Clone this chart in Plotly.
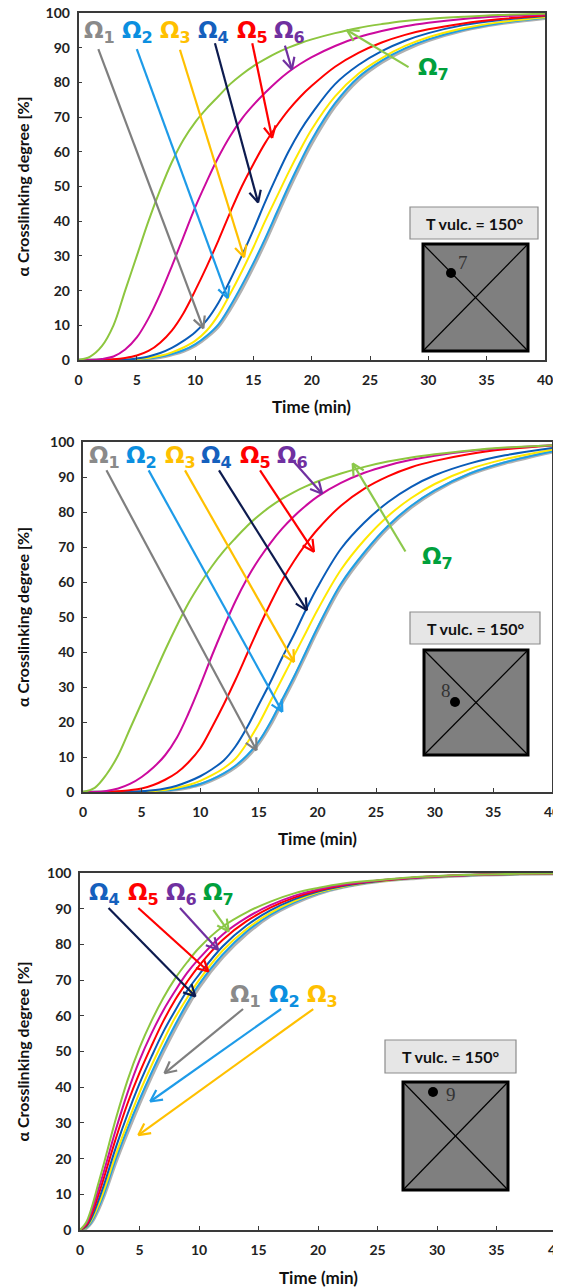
import math
import plotly.graph_objects as go

# the page body adds an 8px margin; the figure is sized so it exactly fills the 561x1288 window
OFF = 8
W, H = 561 - OFF, 1288 - OFF

# ---------------- data ----------------
T12 = [0, 1, 2, 3, 4, 5, 6, 7, 8, 9, 10, 11, 12, 13, 14, 15, 16, 17, 18, 19, 20, 22, 24, 26, 28, 30, 33, 36, 40]

p1_om7 = [0, 1, 4, 10, 20, 30, 40, 49, 57, 63.5, 68.5, 72.5, 76, 79.5, 82.3, 84.7, 86.7, 88.5, 90, 91.3, 92.4, 94.2, 95.7, 96.8, 97.7, 98.3, 98.9, 99.4, 99.8]
p1_om6 = [0, 0, 0.3, 1, 3, 6.5, 12, 19, 27, 35.5, 44, 51.5, 58.5, 64.5, 69.5, 73.5, 77, 80.2, 83, 85.3, 87.3, 90.5, 93, 94.8, 96.2, 97.2, 98.3, 99, 99.6]
p1_om5 = [0, 0, 0, 0.2, 0.6, 1.3, 2.6, 5, 8.5, 13.5, 20, 27, 34.5, 42.5, 50, 56.5, 62.5, 67.5, 72, 75.8, 79, 84.5, 88.5, 91.5, 93.7, 95.3, 97, 98.2, 99.3]
p1_om4 = [0, 0, 0, 0, 0, 0.4, 1, 2, 3.5, 5.5, 8, 11.5, 16.5, 23, 30, 37.5, 45.5, 53, 60, 66, 71, 79.5, 85, 89, 92, 94.2, 96.5, 97.9, 99.1]
p1_om3 = [0, 0, 0, 0, 0, 0.3, 0.6, 1.2, 2.2, 3.6, 5.5, 8.5, 13, 19, 25.5, 32.5, 40, 47, 54, 60.5, 66.5, 76, 82.5, 87, 90.5, 93, 95.6, 97.3, 98.8]
p1_om2 = [0, 0, 0, 0, 0, 0.2, 0.4, 0.9, 1.7, 2.8, 4.5, 7, 10.3, 15.5, 21.5, 28, 35, 42.5, 50, 57, 63.5, 74, 81.5, 86.3, 89.8, 92.4, 95.2, 97, 98.6]
p1_om1 = [0, 0, 0, 0, 0, 0.2, 0.4, 0.8, 1.6, 2.6, 4.2, 6.6, 9.7, 14.7, 20.5, 27, 34, 41.5, 49, 56, 62.5, 73.2, 80.8, 85.8, 89.4, 92.1, 95, 96.9, 98.5]

p2_om7 = [0, 1.2, 5, 10.5, 18, 25.5, 33, 40.5, 47.5, 54, 59.5, 64.5, 68.8, 72.5, 76, 79, 81.6, 83.8, 85.7, 87.3, 88.7, 91, 92.9, 94.4, 95.6, 96.5, 97.6, 98.4, 99.1]
p2_om6 = [0, 0, 0.3, 1, 2.3, 4.3, 7, 10.5, 15.5, 22.5, 30.5, 39, 47, 54.5, 61, 66.5, 71.2, 75.3, 78.8, 81.8, 84.4, 88.3, 91.2, 93.3, 94.9, 96.1, 97.4, 98.3, 99.1]
p2_om5 = [0, 0, 0, 0.2, 0.5, 1, 2, 3.5, 5.5, 8.5, 12.5, 18.5, 25, 32, 39.5, 47, 54, 60.5, 66, 70.8, 75, 81.8, 86.7, 90.2, 92.8, 94.6, 96.6, 97.9, 99]
p2_om4 = [0, 0, 0, 0, 0, 0.2, 0.5, 1, 1.8, 3, 4.5, 6.5, 9, 13, 18.5, 25, 31.5, 38.5, 45, 52, 58.5, 69.5, 77, 82.8, 87.2, 90.5, 93.9, 96.2, 98.3]
p2_om3 = [0, 0, 0, 0, 0, 0, 0.3, 0.6, 1.2, 2, 3.2, 4.8, 6.8, 9.5, 14, 19.5, 26, 32.5, 39, 45.5, 52, 63.5, 72, 78.8, 84, 88, 92.3, 95.1, 97.8]
p2_om2 = [0, 0, 0, 0, 0, 0, 0.2, 0.4, 0.8, 1.4, 2.3, 3.6, 5.3, 7.5, 10.5, 14.5, 20, 26.5, 33, 40, 47, 59.5, 68.5, 76, 81.8, 86.2, 91, 94.2, 97.3]
p2_om1 = [0, 0, 0, 0, 0, 0, 0.2, 0.4, 0.7, 1.3, 2.1, 3.4, 5, 7.1, 10, 14, 19.3, 25.8, 32.3, 39.3, 46.3, 58.8, 67.9, 75.5, 81.4, 85.9, 90.8, 94, 97.2]

T3 = [0, 0.5, 1, 1.5, 2, 3, 4, 5, 6, 7, 8, 9, 10, 12, 14, 16, 18, 20, 22, 25, 28, 31, 34, 37, 40]
p3_om7 = [0, 2, 6.5, 12.5, 18.5, 31, 42, 51, 58.5, 65, 70.5, 75, 79, 85, 89, 92, 94.3, 95.8, 97, 98, 98.8, 99.3, 99.6, 99.8, 99.9]
p3_om6 = [0, 1.6, 5.5, 10.8, 16.3, 28, 38.5, 47.5, 55, 61.5, 67, 72, 76, 82.8, 87.5, 91, 93.6, 95.4, 96.7, 97.9, 98.7, 99.2, 99.6, 99.8, 99.9]
p3_om5 = [0, 1.2, 4.5, 9.3, 14.5, 25.5, 35.5, 44, 51.5, 58.5, 64.5, 69.5, 74, 81.3, 86.5, 90.3, 93.1, 95.1, 96.5, 97.8, 98.7, 99.2, 99.55, 99.75, 99.9]
p3_om4 = [0, 0.9, 3.6, 7.8, 12.5, 23, 32.5, 41, 48.5, 55.5, 61.5, 67, 71.5, 79.5, 85.3, 89.5, 92.6, 94.8, 96.3, 97.7, 98.6, 99.15, 99.5, 99.75, 99.9]
p3_om3 = [0, 0.7, 3, 6.6, 11, 21, 30, 38.5, 46, 53, 59.5, 65, 70, 78.3, 84.3, 88.8, 92.1, 94.5, 96.1, 97.6, 98.55, 99.1, 99.5, 99.7, 99.85]
p3_om2 = [0, 0.55, 2.5, 5.9, 10, 19.8, 28.5, 36.5, 44, 51, 57.5, 63.5, 68.8, 77.2, 83.6, 88.3, 91.8, 94.3, 96, 97.6, 98.5, 99.1, 99.5, 99.7, 99.85]
p3_om1 = [0, 0.5, 2.3, 5.5, 9.5, 19, 27.5, 35.5, 43, 50, 56.5, 62.5, 68, 76.5, 83, 88, 91.5, 94.2, 96, 97.6, 98.5, 99.1, 99.5, 99.7, 99.85]

x_ticks = [0, 5, 10, 15, 20, 25, 30, 35, 40]
y_ticks = [0, 10, 20, 30, 40, 50, 60, 70, 80, 90, 100]

series_names = ["Ω1", "Ω2", "Ω3", "Ω4", "Ω5", "Ω6", "Ω7"]
curve_colors = ["#A3A3A3", "#1E9FE6", "#FFE800", "#0A5CB8", "#FF0000", "#CC0A9E", "#8DC63F"]
label_colors = ["#8A8A8A", "#0B8FE0", "#FFC000", "#1560BD", "#FF0000", "#7030A0", "#00A03C"]
arrow_colors = ["#7F7F7F", "#1E9BE8", "#FFC000", "#0D1B4F", "#FF0000", "#7030A0", "#8CC84B"]

# arrows: (series index, start t, start v, end t, end v)
p1_arrows = [(0, 1.7, 89.6, 10.7, 9.1), (1, 5.0, 89.6, 12.8, 17.8), (2, 8.7, 89.4, 14.2, 29.6),
             (3, 11.7, 91.3, 15.4, 45.4), (4, 14.9, 91.3, 16.6, 64.0), (5, 17.7, 90.6, 18.3, 83.7),
             (6, 28.3, 84.4, 23.0, 95.1)]
p1_labels = [(0, 1.8, 94.5), (1, 5.1, 94.5), (2, 8.3, 94.5), (3, 11.6, 94.5), (4, 14.9, 94.5), (5, 18.1, 94.5), (6, 30.4, 84.0)]

p2_arrows = [(0, 2.0, 91.9, 14.8, 11.9), (1, 5.6, 91.9, 17.0, 22.9), (2, 8.7, 91.9, 18.0, 37.1),
             (3, 11.6, 91.9, 19.1, 51.9), (4, 15.1, 91.9, 19.7, 68.6), (5, 18.0, 94.3, 20.4, 85.2),
             (6, 27.5, 68.7, 23.0, 93.9)]
p2_labels = [(0, 1.8, 95.8), (1, 5.0, 95.8), (2, 8.3, 95.8), (3, 11.4, 95.8), (4, 14.7, 95.8), (5, 17.9, 95.8), (6, 30.2, 67.0)]

p3_arrows = [(3, 2.4, 90.2, 9.7, 65.4), (4, 4.9, 90.2, 10.8, 72.4), (5, 8.4, 90.2, 11.6, 78.5),
             (6, 11.2, 89.7, 12.5, 83.6), (0, 13.7, 61.9, 7.1, 43.9), (1, 16.9, 61.9, 5.9, 36.0),
             (2, 19.6, 61.9, 4.9, 26.6)]
p3_labels = [(3, 2.1, 94.0), (4, 5.3, 94.0), (5, 8.5, 94.0), (6, 11.6, 94.0), (0, 13.9, 65.6), (1, 17.2, 65.6), (2, 20.4, 65.6)]

insets = [  # label box, square, dot, number text, number pos (window pixels)
    dict(box=(410, 207, 538, 239), sq=(423, 244, 528, 351), dot=(451, 273), num="7", npos=(463, 262)),
    dict(box=(410, 612, 540, 644), sq=(424, 650, 528, 755), dot=(455, 702), num="8", npos=(446, 690)),
    dict(box=(385, 1040, 516, 1073), sq=(403, 1082, 508, 1190), dot=(433, 1092), num="9", npos=(451, 1094)),
]
inset_text = "T vulc. = 150°"

# ---------------- layout geometry (window pixels) ----------------
panels = [
    dict(x0=78.5, x1=545, y0=360, y1=13, T=T12, data=[p1_om1, p1_om2, p1_om3, p1_om4, p1_om5, p1_om6, p1_om7],
         arrows=p1_arrows, labels=p1_labels, xt_y=406),
    dict(x0=83, x1=552, y0=792, y1=442, T=T12, data=[p2_om1, p2_om2, p2_om3, p2_om4, p2_om5, p2_om6, p2_om7],
         arrows=p2_arrows, labels=p2_labels, xt_y=838),
    dict(x0=80, x1=556, y0=1230, y1=873, T=T3, data=[p3_om1, p3_om2, p3_om3, p3_om4, p3_om5, p3_om6, p3_om7],
         arrows=p3_arrows, labels=p3_labels, xt_y=1277),
]

def PX(px):
    return (px - OFF) / W

def PY(py):
    return 1 - (py - OFF) / H

fig = go.Figure()
shapes = []
annotations = []
bold_font = "Lato"

for k, p in enumerate(panels):
    sfx = "" if k == 0 else str(k + 1)
    xa, ya = "x" + sfx, "y" + sfx
    for i in range(7):
        width = 3.6 if i == 0 else 2.0
        fig.add_trace(go.Scatter(
            x=p["T"], y=p["data"][i], mode="lines", name=series_names[i],
            line=dict(color=curve_colors[i], width=width, shape="spline", smoothing=1.0),
            opacity=0.85 if i == 0 else 1.0,
            xaxis=xa, yaxis=ya, showlegend=False, hoverinfo="skip"))
    axis_common = dict(showline=True, mirror=True, linecolor="#3A3A3A", linewidth=1.6,
                       showgrid=False, zeroline=False, ticks="inside", ticklen=4,
                       tickcolor="#3A3A3A", automargin=False, ticklabeloverflow="allow",
                       tickfont=dict(family=bold_font, size=14, color="#222", weight="bold"))
    fig.layout["xaxis" + sfx] = dict(domain=[PX(p["x0"]), PX(p["x1"])], range=[0, 40],
                                     tickvals=x_ticks, anchor=ya, ticklabelstandoff=6, **axis_common)
    fig.layout["yaxis" + sfx] = dict(domain=[PY(p["y0"]), PY(p["y1"])], range=[0, 100],
                                     tickvals=y_ticks, anchor=xa, ticklabelstandoff=4, **axis_common)

    sx = (p["x1"] - p["x0"]) / 40.0
    sy = (p["y0"] - p["y1"]) / 100.0
    for (i, t0, v0, t1, v1) in p["arrows"]:
        col = arrow_colors[i]
        shapes.append(dict(type="line", xref=xa, yref=ya, x0=t0, y0=v0, x1=t1, y1=v1,
                           line=dict(color=col, width=2.2)))
        dx, dy = (t1 - t0) * sx, (v1 - v0) * sy
        L = math.hypot(dx, dy)
        ux, uy = dx / L, dy / L
        hl, ang = 13.0, math.radians(27)
        for s in (1, -1):
            ca, sa = math.cos(s * ang), math.sin(s * ang)
            rx = ux * ca - uy * sa
            ry = ux * sa + uy * ca
            shapes.append(dict(type="line", xref=xa, yref=ya, x0=t1, y0=v1,
                               x1=t1 - hl * rx / sx, y1=v1 - hl * ry / sy,
                               line=dict(color=col, width=2.2)))
    for (i, t, v) in p["labels"]:
        annotations.append(dict(xref=xa, yref=ya, x=t, y=v, showarrow=False,
                                text="<b>Ω</b><sub><b>" + series_names[i][1:] + "</b></sub>",
                                font=dict(family="DejaVu Sans", size=23, color=label_colors[i])))
    annotations.append(dict(xref="paper", yref="paper", x=PX((p["x0"] + p["x1"]) / 2), y=PY(p["xt_y"]),
                            text="Time (min)", showarrow=False, xanchor="center", yanchor="middle",
                            font=dict(family=bold_font, size=17, color="#111", weight="bold")))
    annotations.append(dict(xref="paper", yref="paper", x=PX(22), y=PY((p["y0"] + p["y1"]) / 2),
                            text="α Crosslinking degree [%]", showarrow=False, textangle=-90,
                            xanchor="center", yanchor="middle",
                            font=dict(family=bold_font, size=16, color="#111", weight="bold")))

for ins in insets:
    bx0, by0, bx1, by1 = ins["box"]
    shapes.append(dict(type="rect", xref="paper", yref="paper", x0=PX(bx0), x1=PX(bx1), y0=PY(by1), y1=PY(by0),
                       fillcolor="#E6E6E6", line=dict(color="#8C8C8C", width=1.2)))
    annotations.append(dict(xref="paper", yref="paper", x=PX((bx0 + bx1) / 2), y=PY((by0 + by1) / 2),
                            text=inset_text, showarrow=False, xanchor="center", yanchor="middle",
                            font=dict(family=bold_font, size=16, color="#111", weight="bold")))
    qx0, qy0, qx1, qy1 = ins["sq"]
    shapes.append(dict(type="rect", xref="paper", yref="paper", x0=PX(qx0), x1=PX(qx1), y0=PY(qy1), y1=PY(qy0),
                       fillcolor="#7F7F7F", line=dict(color="#000", width=3)))
    shapes.append(dict(type="line", xref="paper", yref="paper", x0=PX(qx0), y0=PY(qy0), x1=PX(qx1), y1=PY(qy1),
                       line=dict(color="#000", width=1.2)))
    shapes.append(dict(type="line", xref="paper", yref="paper", x0=PX(qx0), y0=PY(qy1), x1=PX(qx1), y1=PY(qy0),
                       line=dict(color="#000", width=1.2)))
    dx_, dy_ = ins["dot"]
    r = 5
    shapes.append(dict(type="circle", xref="paper", yref="paper", x0=PX(dx_ - r), x1=PX(dx_ + r),
                       y0=PY(dy_ + r), y1=PY(dy_ - r), fillcolor="#000", line=dict(color="#000", width=0)))
    nx, ny = ins["npos"]
    annotations.append(dict(xref="paper", yref="paper", x=PX(nx), y=PY(ny), text=ins["num"], showarrow=False,
                            xanchor="center", yanchor="middle",
                            font=dict(family="Liberation Serif", size=19, color="#333")))

fig.update_layout(width=W, height=H, margin=dict(l=0, r=0, t=0, b=0, autoexpand=False),
                  paper_bgcolor="white", plot_bgcolor="white",
                  shapes=shapes, annotations=annotations, showlegend=False)

fig.write_html("out.html")
